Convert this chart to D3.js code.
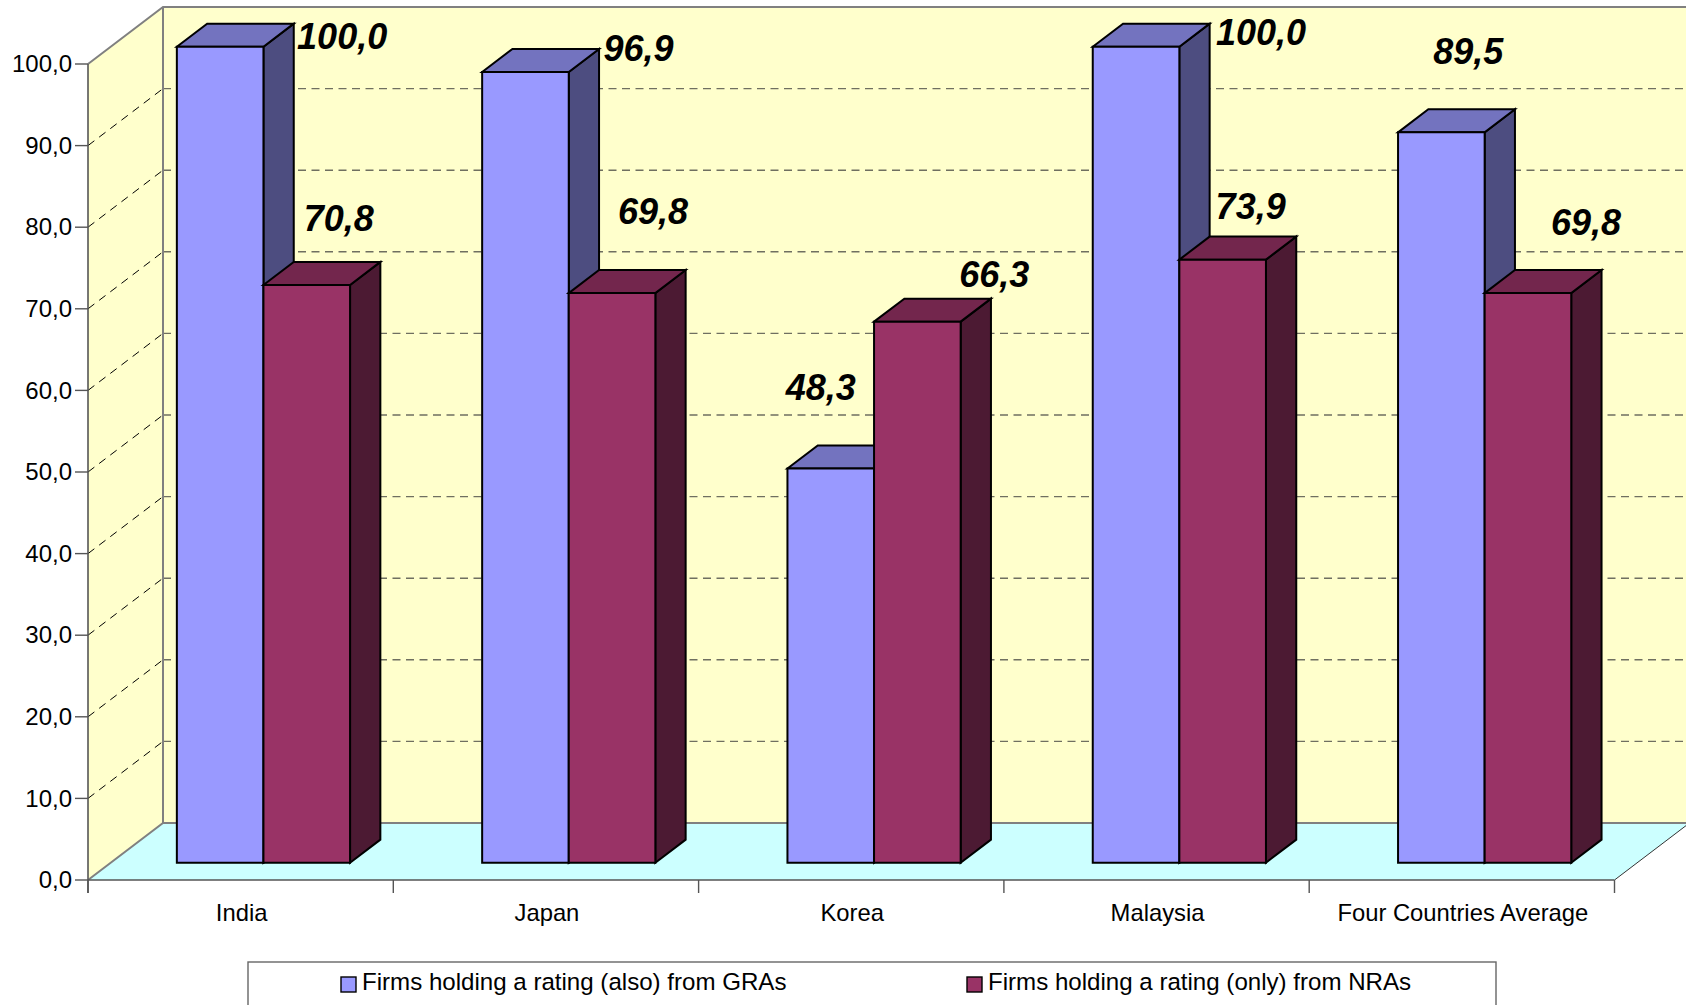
<!DOCTYPE html>
<html>
<head>
<meta charset="utf-8">
<script src="https://cdn.jsdelivr.net/npm/d3@7/dist/d3.min.js"></script>
<style>
html,body{margin:0;padding:0;background:#fff;overflow:hidden}
svg{display:block}
text{font-family:"Liberation Sans",Arial,sans-serif;fill:#000}
</style>
</head>
<body>
<svg id="chart" width="1686" height="1005"></svg>
<script>
// Chart data
const categories = ["India", "Japan", "Korea", "Malaysia", "Four Countries Average"];
const seriesNames = ["Firms holding a rating (also) from GRAs", "Firms holding a rating (only) from NRAs"];
const graValues = [100.0, 96.9, 48.3, 100.0, 89.5];
const nraValues = [70.8, 69.8, 66.3, 73.9, 69.8];
const yTicks = [0, 10, 20, 30, 40, 50, 60, 70, 80, 90, 100];

// Hand placement of the value labels, relative to the top centre of each bar
const graLabelOffsets = [[122, -11], [113, -24], [-10, -82], [125, -15], [27, -81]];
const nraLabelOffsets = [[32, -67], [41, -82], [77, -48], [28, -54], [58, -71]];

// Oblique projection of the plot box
const plot = {left: 88, right: 1614.5, floor: 880, top: 64, depthX: 75, depthY: 57};
const barPlane = {near: 0.304, far: 0.708}; // share of the box depth occupied by the bars
const colours = {
  wall: "#FFFFCC", floor: "#CCFFFF", frame: "#808080",
  front: ["#9999FF", "#993366"], top: ["#7373BF", "#73264D"], side: ["#4D4D80", "#4C1A33"]
};
const fmt = v => v.toFixed(1).replace(".", ",");

const svg = d3.select("#chart");
const y = d3.scaleLinear().domain([0, 100]).range([plot.floor, plot.top]);
const x = d3.scaleBand().domain(categories).range([plot.left, plot.right]);
const barW = 86.6;
const inner = d3.scaleBand().domain([0, 1]).range([-barW, barW]);
const line = d3.line();
const poly = pts => line(pts) + "Z";

// Walls and floor
const D = plot;
svg.append("path").attr("d", poly([[D.left, y(0)], [D.left + D.depthX, y(0) - D.depthY], [D.left + D.depthX, y(100) - D.depthY], [D.left, y(100)]]))
  .attr("fill", colours.wall);
svg.append("rect").attr("x", D.left + D.depthX).attr("y", y(100) - D.depthY)
  .attr("width", 1686 - D.left - D.depthX).attr("height", y(0) - y(100))
  .attr("fill", colours.wall);
svg.append("path").attr("d", poly([[D.left, y(0)], [D.left + D.depthX, y(0) - D.depthY], [D.right + D.depthX, y(0) - D.depthY], [D.right, y(0)]]))
  .attr("fill", colours.floor);

// Gridlines along the side wall and back wall
const gridTicks = yTicks.filter(t => t > 0 && t < 100);
svg.append("g").selectAll("path").data(gridTicks).join("path")
  .attr("d", t => line([[D.left, y(t)], [D.left + D.depthX, y(t) - D.depthY]]))
  .attr("fill", "none").attr("stroke", "#000").attr("stroke-width", 1).attr("stroke-dasharray", "8 6");
svg.append("g").selectAll("line").data(gridTicks).join("line")
  .attr("x1", D.left + D.depthX).attr("x2", 1686)
  .attr("y1", t => y(t) - D.depthY).attr("y2", t => y(t) - D.depthY)
  .attr("stroke", "#6f6f60").attr("stroke-width", 1.4).attr("stroke-dasharray", "8 5.5");

// Frame of the box
const frame = svg.append("g").attr("fill", "none").attr("stroke", colours.frame).attr("stroke-width", 2);
frame.append("path").attr("d", line([[D.left, y(100)], [D.left + D.depthX, y(100) - D.depthY], [1686, y(100) - D.depthY]]));
frame.append("path").attr("d", line([[D.left + D.depthX, y(100) - D.depthY], [D.left + D.depthX, y(0) - D.depthY]]));
frame.append("path").attr("d", line([[D.left, y(0)], [D.left + D.depthX, y(0) - D.depthY], [1686, y(0) - D.depthY]]));
svg.append("path").attr("d", line([[D.right, y(0)], [D.right + D.depthX, y(0) - D.depthY]]))
  .attr("stroke", "#333").attr("stroke-width", 1).attr("fill", "none");

// Bars: each one is a front face, a top face and a side face
const nearX = barPlane.near * D.depthX, nearY = barPlane.near * D.depthY;
const deepX = (barPlane.far - barPlane.near) * D.depthX, deepY = (barPlane.far - barPlane.near) * D.depthY;
const rows = [];
categories.forEach((c, i) => {
  [graValues[i], nraValues[i]].forEach((v, s) => {
    const x0 = x(c) + x.bandwidth() / 2 + nearX + inner(s);
    rows.push({c, v, s, x0, x1: x0 + barW, y0: y(0) - nearY, y1: y(v) - nearY, offset: (s ? nraLabelOffsets : graLabelOffsets)[i]});
  });
});
const bars = svg.append("g").selectAll("g").data(rows).join("g")
  .attr("stroke", "#000").attr("stroke-width", 2).attr("stroke-linejoin", "miter");
bars.append("path").attr("fill", d => colours.side[d.s])
  .attr("d", d => poly([[d.x1, d.y0], [d.x1 + deepX, d.y0 - deepY], [d.x1 + deepX, d.y1 - deepY], [d.x1, d.y1]]));
bars.append("path").attr("fill", d => colours.top[d.s])
  .attr("d", d => poly([[d.x0, d.y1], [d.x0 + deepX, d.y1 - deepY], [d.x1 + deepX, d.y1 - deepY], [d.x1, d.y1]]));
bars.append("path").attr("fill", d => colours.front[d.s])
  .attr("d", d => poly([[d.x0, d.y0], [d.x1, d.y0], [d.x1, d.y1], [d.x0, d.y1]]));

// Value labels
svg.append("g").selectAll("text").data(rows).join("text")
  .attr("x", d => (d.x0 + d.x1) / 2 + d.offset[0])
  .attr("y", d => d.y1 + d.offset[1])
  .attr("dy", "0.36em").attr("text-anchor", "middle")
  .attr("font-size", 36).attr("font-weight", "bold").attr("font-style", "italic")
  .text(d => fmt(d.v));

// Value axis
const axisStroke = "#555";
svg.append("line").attr("x1", D.left).attr("x2", D.left).attr("y1", y(100)).attr("y2", D.floor + 13)
  .attr("stroke", axisStroke).attr("stroke-width", 1.6);
svg.append("g").selectAll("line").data(yTicks).join("line")
  .attr("x1", D.left - 13).attr("x2", D.left).attr("y1", y).attr("y2", y)
  .attr("stroke", axisStroke).attr("stroke-width", 1.4);
svg.append("g").selectAll("text").data(yTicks).join("text")
  .attr("x", D.left - 16).attr("y", y).attr("dy", "0.34em").attr("text-anchor", "end")
  .attr("font-size", 24).text(fmt);

// Category axis
svg.append("line").attr("x1", D.left).attr("x2", D.right).attr("y1", D.floor).attr("y2", D.floor)
  .attr("stroke", axisStroke).attr("stroke-width", 1.6);
svg.append("g").selectAll("line").data(categories.map(c => x(c) + x.bandwidth()).concat([D.left])).join("line")
  .attr("x1", d => d).attr("x2", d => d).attr("y1", D.floor).attr("y2", D.floor + 13)
  .attr("stroke", axisStroke).attr("stroke-width", 1.4);
svg.append("g").selectAll("text").data(categories).join("text")
  .attr("x", c => x(c) + x.bandwidth() / 2 + 1).attr("y", 921).attr("text-anchor", "middle")
  .attr("font-size", 23.8).text(c => c);

// Legend, running off the bottom edge of the page
svg.append("rect").attr("x", 248).attr("y", 962).attr("width", 1248).attr("height", 60)
  .attr("fill", "#fff").attr("stroke", "#666").attr("stroke-width", 1.4);
const legend = svg.append("g").selectAll("g").data(seriesNames).join("g")
  .attr("transform", (d, i) => `translate(${[341, 967][i]},977)`);
legend.append("rect").attr("width", 15).attr("height", 15)
  .attr("fill", (d, i) => colours.front[i]).attr("stroke", "#000").attr("stroke-width", 1.4);
legend.append("text").attr("x", 21).attr("y", 13).attr("font-size", 24.1).text(d => d);
</script>
</body>
</html>
